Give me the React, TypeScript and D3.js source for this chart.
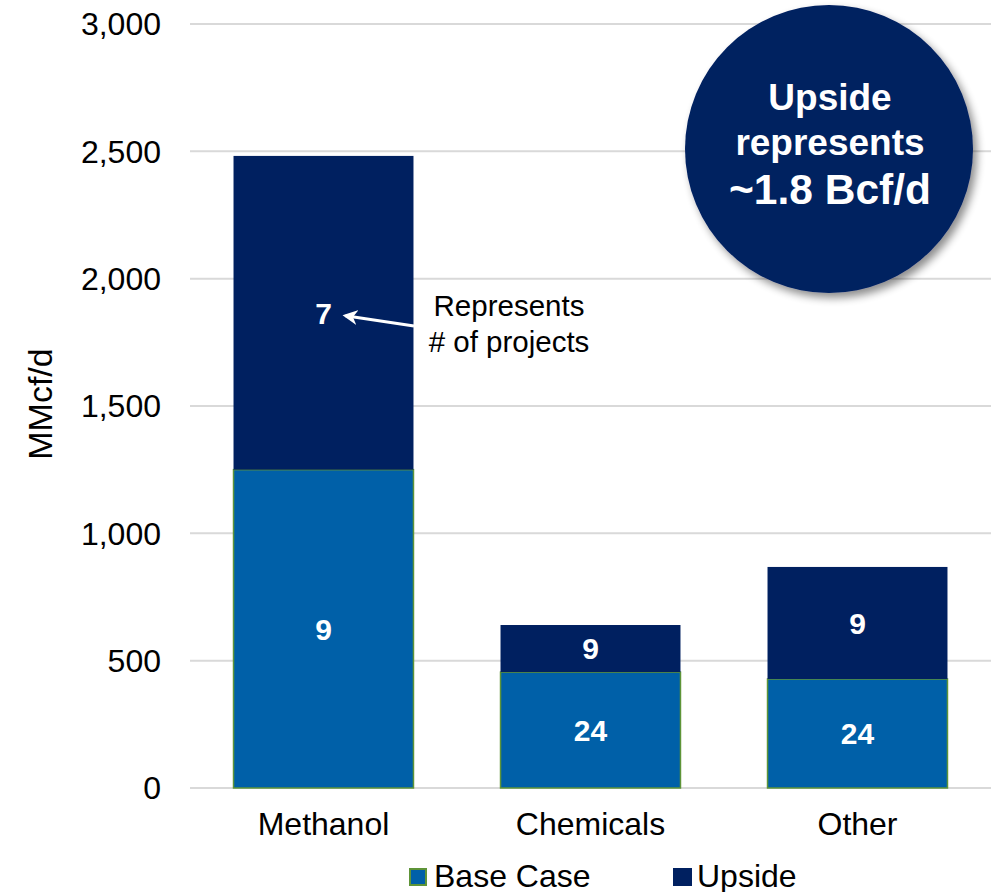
import React from "react";
import * as d3 from "d3";

// Demand by end use, MMcf/d
const categories = ["Methanol", "Chemicals", "Other"];
const baseCase = [1250, 455, 428];
const upside = [1232, 185, 440];
// Number of projects in each segment
const baseProjects = [9, 24, 24];
const upsideProjects = [7, 9, 9];
const yTicks = [0, 500, 1000, 1500, 2000, 2500, 3000];
const seriesNames = ["Base Case", "Upside"];
const calloutLines = ["Upside", "represents", "~1.8 Bcf/d"];
const noteLines = ["Represents", "# of projects"];

const W = 999;
const H = 892;
const FONT = "Arial, 'Liberation Sans', Helvetica, sans-serif";
const BASE_COLOR = "#0060A8";
const BASE_EDGE = "#5E9438";
const UPSIDE_COLOR = "#002060";
const GRID = "#D9D9D9";

export default function App() {
  const y = d3.scaleLinear().domain([0, 3000]).range([788, 24]);
  const x = d3
    .scaleBand<string>()
    .domain(categories)
    .range([190, 991])
    .paddingInner(0.326)
    .paddingOuter(0.163);
  const bw = x.bandwidth();
  const fmt = d3.format(",");

  const rows = categories.map((c, i) => ({
    c,
    base: baseCase[i],
    up: upside[i],
    bp: baseProjects[i],
    upP: upsideProjects[i],
  }));

  // Arrow from the note text to the first upside label
  const methX = (x("Methanol") ?? 0) + bw / 2;
  const methUpMid = y(baseCase[0] + upside[0] / 2);
  const arrowStart: [number, number] = [414, 326];
  const arrowEnd: [number, number] = [methX + 22, methUpMid + 3];

  return (
    <svg
      width={W}
      height={H}
      style={{ position: "absolute", left: 0, top: 0, background: "#fff" }}
      fontFamily={FONT}
    >
      <defs>
        <filter id="shadow" x="-20%" y="-20%" width="150%" height="150%">
          <feGaussianBlur in="SourceAlpha" stdDeviation="4" />
          <feOffset dx="4" dy="5" result="off" />
          <feComponentTransfer>
            <feFuncA type="linear" slope="0.45" />
          </feComponentTransfer>
          <feMerge>
            <feMergeNode />
            <feMergeNode in="SourceGraphic" />
          </feMerge>
        </filter>
        <marker
          id="head"
          viewBox="0 0 10 10"
          refX="8"
          refY="5"
          markerWidth="5"
          markerHeight="5"
          orient="auto"
        >
          <path d="M0,0 L10,5 L0,10 L3,5 Z" fill="#fff" />
        </marker>
      </defs>

      {/* gridlines */}
      {yTicks.map((t) => (
        <line
          key={t}
          x1={190}
          x2={991}
          y1={y(t)}
          y2={y(t)}
          stroke={GRID}
          strokeWidth={2}
        />
      ))}

      {/* y tick labels */}
      {yTicks.map((t) => (
        <text
          key={"l" + t}
          x={161}
          y={y(t)}
          dy="0.35em"
          textAnchor="end"
          fontSize={32}
          fill="#000"
        >
          {fmt(t)}
        </text>
      ))}

      <text
        transform={`translate(52, 404) rotate(-90)`}
        textAnchor="middle"
        fontSize={34}
        fill="#000"
      >
        MMcf/d
      </text>

      {/* stacked bars */}
      {rows.map((r) => {
        const x0 = x(r.c) ?? 0;
        const cx = x0 + bw / 2;
        return (
          <g key={r.c}>
            <rect
              x={x0}
              y={y(r.base)}
              width={bw}
              height={y(0) - y(r.base)}
              fill={BASE_COLOR}
              stroke={BASE_EDGE}
              strokeWidth={1.5}
            />
            <rect
              x={x0}
              y={y(r.base + r.up)}
              width={bw}
              height={y(r.base) - y(r.base + r.up)}
              fill={UPSIDE_COLOR}
            />
            <text
              x={cx}
              y={y(r.base / 2)}
              dy="0.36em"
              textAnchor="middle"
              fontSize={30}
              fontWeight="bold"
              fill="#fff"
            >
              {r.bp}
            </text>
            <text
              x={cx}
              y={y(r.base + r.up / 2)}
              dy="0.36em"
              textAnchor="middle"
              fontSize={30}
              fontWeight="bold"
              fill="#fff"
            >
              {r.upP}
            </text>
            <text
              x={cx}
              y={835}
              textAnchor="middle"
              fontSize={32}
              fill="#000"
            >
              {r.c}
            </text>
          </g>
        );
      })}

      {/* note and arrow */}
      <line
        x1={arrowStart[0]}
        y1={arrowStart[1]}
        x2={arrowEnd[0]}
        y2={arrowEnd[1]}
        stroke="#fff"
        strokeWidth={3}
        markerEnd="url(#head)"
      />
      {noteLines.map((s, i) => (
        <text
          key={s}
          x={509}
          y={316 + i * 36}
          textAnchor="middle"
          fontSize={29.5}
          fill="#000"
        >
          {s}
        </text>
      ))}

      {/* callout circle */}
      <g filter="url(#shadow)">
        <circle cx={829} cy={149} r={144} fill={UPSIDE_COLOR} />
      </g>
      {calloutLines.map((s, i) => (
        <text
          key={s}
          x={830}
          y={[110, 155, 204][i]}
          textAnchor="middle"
          fontSize={i === 2 ? 42.5 : 37}
          fontWeight="bold"
          fill="#fff"
        >
          {s}
        </text>
      ))}

      {/* legend */}
      <rect
        x={410}
        y={869}
        width={16}
        height={16}
        fill={BASE_COLOR}
        stroke={BASE_EDGE}
        strokeWidth={2}
      />
      <text x={434} y={887} fontSize={32} fill="#000">
        {seriesNames[0]}
      </text>
      <rect x={673} y={868} width={19} height={18} fill={UPSIDE_COLOR} />
      <text x={697} y={887} fontSize={32} fill="#000">
        {seriesNames[1]}
      </text>
    </svg>
  );
}
